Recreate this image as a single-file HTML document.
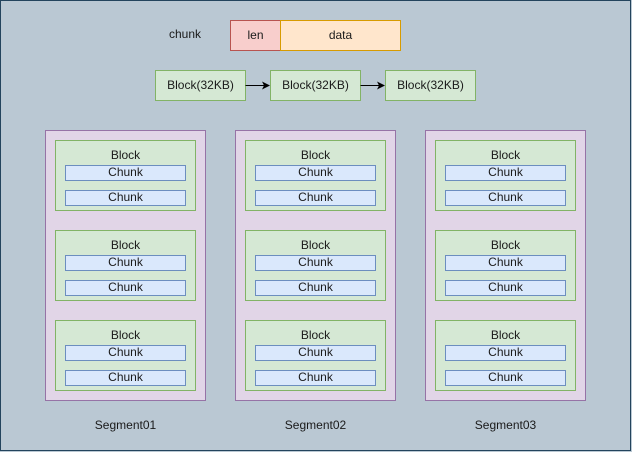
<!DOCTYPE html>
<html><head><meta charset="utf-8"><style>
html,body{margin:0;padding:0;background:#bac8d3;}
svg{display:block;}
text{font-family:"Liberation Sans",Arial,sans-serif;font-size:12px;fill:#1a1a1a;}
</style></head><body>
<svg width="632" height="452" viewBox="0 0 632 452" xmlns="http://www.w3.org/2000/svg">
<rect x="0.5" y="0.5" width="630" height="450" fill="#bac8d3" stroke="#23445d"/>
<text x="185" y="38" text-anchor="middle">chunk</text>
<rect x="230.5" y="20.5" width="50" height="30" fill="#f8cecc" stroke="#b85450"/>
<text x="255.5" y="39" text-anchor="middle">len</text>
<rect x="280.5" y="20.5" width="120" height="30" fill="#ffe6cc" stroke="#d79b00"/>
<text x="340.5" y="39" text-anchor="middle">data</text>

<rect x="155.5" y="70.5" width="90" height="30" fill="#d5e8d4" stroke="#82b366"/>
<text x="200.5" y="89" text-anchor="middle">Block(32KB)</text>
<rect x="270.5" y="70.5" width="90" height="30" fill="#d5e8d4" stroke="#82b366"/>
<text x="315.5" y="89" text-anchor="middle">Block(32KB)</text>
<rect x="385.5" y="70.5" width="90" height="30" fill="#d5e8d4" stroke="#82b366"/>
<text x="430.5" y="89" text-anchor="middle">Block(32KB)</text>
<line x1="245.5" y1="85.5" x2="264" y2="85.5" stroke="#000"/>
<path d="M270 85.5 L262 81.5 L264 85.5 L262 89.5Z" fill="#000"/>
<line x1="360.5" y1="85.5" x2="379" y2="85.5" stroke="#000"/>
<path d="M385 85.5 L377 81.5 L379 85.5 L377 89.5Z" fill="#000"/>

<rect x="45.5" y="130.5" width="160" height="270" fill="#e1d5e7" stroke="#9673a6"/>
<rect x="55.5" y="140.5" width="140" height="70" fill="#d5e8d4" stroke="#82b366"/>
<text x="125.5" y="159" text-anchor="middle">Block</text>
<rect x="65.5" y="165.5" width="120" height="15" fill="#dae8fc" stroke="#6c8ebf"/>
<text x="125.5" y="176" text-anchor="middle">Chunk</text>
<rect x="65.5" y="190.5" width="120" height="15" fill="#dae8fc" stroke="#6c8ebf"/>
<text x="125.5" y="201" text-anchor="middle">Chunk</text>
<rect x="55.5" y="230.5" width="140" height="70" fill="#d5e8d4" stroke="#82b366"/>
<text x="125.5" y="249" text-anchor="middle">Block</text>
<rect x="65.5" y="255.5" width="120" height="15" fill="#dae8fc" stroke="#6c8ebf"/>
<text x="125.5" y="266" text-anchor="middle">Chunk</text>
<rect x="65.5" y="280.5" width="120" height="15" fill="#dae8fc" stroke="#6c8ebf"/>
<text x="125.5" y="291" text-anchor="middle">Chunk</text>
<rect x="55.5" y="320.5" width="140" height="70" fill="#d5e8d4" stroke="#82b366"/>
<text x="125.5" y="339" text-anchor="middle">Block</text>
<rect x="65.5" y="345.5" width="120" height="15" fill="#dae8fc" stroke="#6c8ebf"/>
<text x="125.5" y="356" text-anchor="middle">Chunk</text>
<rect x="65.5" y="370.5" width="120" height="15" fill="#dae8fc" stroke="#6c8ebf"/>
<text x="125.5" y="381" text-anchor="middle">Chunk</text>
<text x="125.5" y="429" text-anchor="middle">Segment01</text>

<rect x="235.5" y="130.5" width="160" height="270" fill="#e1d5e7" stroke="#9673a6"/>
<rect x="245.5" y="140.5" width="140" height="70" fill="#d5e8d4" stroke="#82b366"/>
<text x="315.5" y="159" text-anchor="middle">Block</text>
<rect x="255.5" y="165.5" width="120" height="15" fill="#dae8fc" stroke="#6c8ebf"/>
<text x="315.5" y="176" text-anchor="middle">Chunk</text>
<rect x="255.5" y="190.5" width="120" height="15" fill="#dae8fc" stroke="#6c8ebf"/>
<text x="315.5" y="201" text-anchor="middle">Chunk</text>
<rect x="245.5" y="230.5" width="140" height="70" fill="#d5e8d4" stroke="#82b366"/>
<text x="315.5" y="249" text-anchor="middle">Block</text>
<rect x="255.5" y="255.5" width="120" height="15" fill="#dae8fc" stroke="#6c8ebf"/>
<text x="315.5" y="266" text-anchor="middle">Chunk</text>
<rect x="255.5" y="280.5" width="120" height="15" fill="#dae8fc" stroke="#6c8ebf"/>
<text x="315.5" y="291" text-anchor="middle">Chunk</text>
<rect x="245.5" y="320.5" width="140" height="70" fill="#d5e8d4" stroke="#82b366"/>
<text x="315.5" y="339" text-anchor="middle">Block</text>
<rect x="255.5" y="345.5" width="120" height="15" fill="#dae8fc" stroke="#6c8ebf"/>
<text x="315.5" y="356" text-anchor="middle">Chunk</text>
<rect x="255.5" y="370.5" width="120" height="15" fill="#dae8fc" stroke="#6c8ebf"/>
<text x="315.5" y="381" text-anchor="middle">Chunk</text>
<text x="315.5" y="429" text-anchor="middle">Segment02</text>

<rect x="425.5" y="130.5" width="160" height="270" fill="#e1d5e7" stroke="#9673a6"/>
<rect x="435.5" y="140.5" width="140" height="70" fill="#d5e8d4" stroke="#82b366"/>
<text x="505.5" y="159" text-anchor="middle">Block</text>
<rect x="445.5" y="165.5" width="120" height="15" fill="#dae8fc" stroke="#6c8ebf"/>
<text x="505.5" y="176" text-anchor="middle">Chunk</text>
<rect x="445.5" y="190.5" width="120" height="15" fill="#dae8fc" stroke="#6c8ebf"/>
<text x="505.5" y="201" text-anchor="middle">Chunk</text>
<rect x="435.5" y="230.5" width="140" height="70" fill="#d5e8d4" stroke="#82b366"/>
<text x="505.5" y="249" text-anchor="middle">Block</text>
<rect x="445.5" y="255.5" width="120" height="15" fill="#dae8fc" stroke="#6c8ebf"/>
<text x="505.5" y="266" text-anchor="middle">Chunk</text>
<rect x="445.5" y="280.5" width="120" height="15" fill="#dae8fc" stroke="#6c8ebf"/>
<text x="505.5" y="291" text-anchor="middle">Chunk</text>
<rect x="435.5" y="320.5" width="140" height="70" fill="#d5e8d4" stroke="#82b366"/>
<text x="505.5" y="339" text-anchor="middle">Block</text>
<rect x="445.5" y="345.5" width="120" height="15" fill="#dae8fc" stroke="#6c8ebf"/>
<text x="505.5" y="356" text-anchor="middle">Chunk</text>
<rect x="445.5" y="370.5" width="120" height="15" fill="#dae8fc" stroke="#6c8ebf"/>
<text x="505.5" y="381" text-anchor="middle">Chunk</text>
<text x="505.5" y="429" text-anchor="middle">Segment03</text>
</svg>
</body></html>
